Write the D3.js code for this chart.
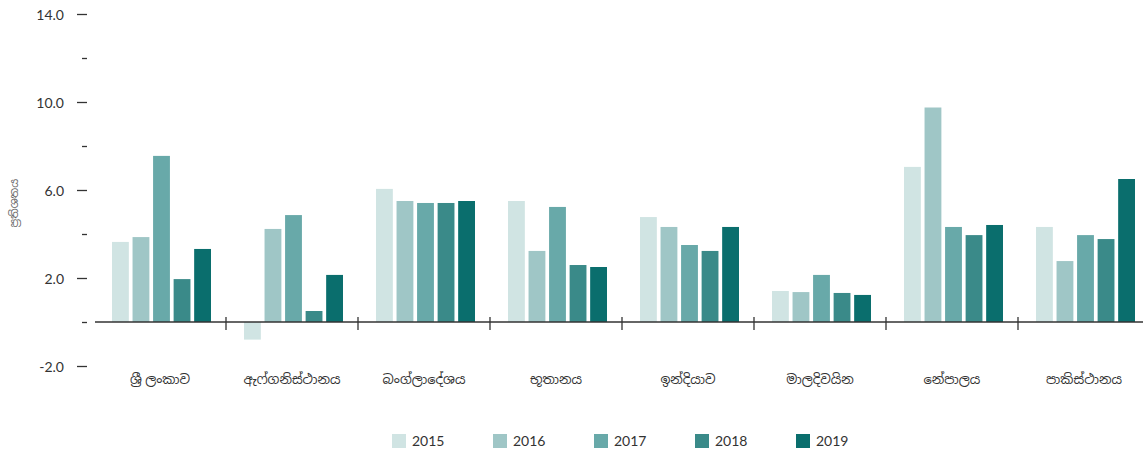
<!DOCTYPE html>
<html>
<head>
<meta charset="utf-8">
<script src="https://cdn.jsdelivr.net/npm/d3@7"></script>
<style>
  body { margin: 0; background: #fff; }
  text { font-family: Lato, "Noto Sans", "Noto Sans Sinhala", sans-serif; }
</style>
</head>
<body>
<div id="canvas"></div>
<script>
// data
var countries = ['ශ්‍රී ලංකාව', 'ඇෆ්ගනිස්ථානය', 'බංග්ලාදේශය', 'භූතානය', 'ඉන්දියාව', 'මාලදිවයින', 'නේපාලය', 'පාකිස්ථානය'];
var years = ['2015', '2016', '2017', '2018', '2019'];
var v2015 = [3.64, -0.8, 6.05, 5.5, 4.77, 1.41, 7.05, 4.32];
var v2016 = [3.86, 4.23, 5.5, 3.23, 4.32, 1.36, 9.75, 2.77];
var v2017 = [7.55, 4.86, 5.41, 5.23, 3.5, 2.14, 4.32, 3.95];
var v2018 = [1.95, 0.5, 5.41, 2.59, 3.23, 1.32, 3.95, 3.77];
var v2019 = [3.32, 2.14, 5.5, 2.5, 4.32, 1.23, 4.41, 6.5];
var yTicks = [-2, 0, 2, 4, 6, 8, 10, 12, 14];
var yLabelled = [-2, 2, 6, 10, 14];
var yTitle = 'ප්‍රතිශතය';

var series = [v2015, v2016, v2017, v2018, v2019];
var colors = ['#d0e4e3', '#9fc6c6', '#68a9a9', '#3a8a89', '#0a6e6d'];

var W = 1143, H = 449;

var svg = d3.select('#canvas')
    .append('svg')
    .attr('width', W)
    .attr('height', H);

// scales
var scaleX = d3.scaleBand()
    .domain(countries)
    .range([94, 1150]);
var scaleInner = d3.scaleBand()
    .domain(years)
    .range([18, 117])
    .paddingInner(0.18);
var scaleY = d3.scaleLinear()
    .domain([-2, 14])
    .range([366, 14]);
var scaleColor = d3.scaleOrdinal()
    .domain(years)
    .range(colors);

// y axis: ticks only, labels on every second one
var axisY = d3.axisLeft(scaleY)
    .tickValues(yTicks)
    .tickSize(0)
    .tickFormat('');
var gy = svg.append('g')
    .attr('transform', 'translate(87,0)')
    .call(axisY);
gy.select('.domain').remove();
gy.selectAll('.tick').append('line')
    .attr('x1', function(d){ return yLabelled.indexOf(d) > -1 ? -10 : -5; })
    .attr('x2', 0)
    .attr('stroke', '#333')
    .attr('stroke-width', 1.3);
gy.selectAll('.tick').filter(function(d){ return yLabelled.indexOf(d) > -1; })
    .append('text')
    .attr('x', -23)
    .attr('dy', '0.4em')
    .attr('text-anchor', 'end')
    .attr('fill', '#333')
    .style('font-size', '14px')
    .text(function(d){ return d.toFixed(1); });

svg.append('text')
    .attr('transform', 'translate(18,' + scaleY(5.4) + ') rotate(-90)')
    .attr('text-anchor', 'middle')
    .attr('fill', '#666')
    .style('font-size', '11px')
    .text(yTitle);

// bars
var rows = [];
countries.forEach(function(c, i){
    years.forEach(function(y, j){
        rows.push({country: c, year: y, value: series[j][i]});
    });
});

svg.append('g').selectAll('rect')
    .data(rows)
    .enter().append('rect')
    .attr('x', function(d){ return scaleX(d.country) + scaleInner(d.year); })
    .attr('width', scaleInner.bandwidth())
    .attr('y', function(d){ return scaleY(Math.max(0, d.value)); })
    .attr('height', function(d){ return Math.abs(scaleY(d.value) - scaleY(0)); })
    .attr('fill', function(d){ return scaleColor(d.year); });

// x axis
var axisX = d3.axisBottom(scaleX).tickSize(0).tickFormat('');
var gx = svg.append('g')
    .attr('transform', 'translate(0,' + scaleY(0) + ')')
    .call(axisX);
gx.select('.domain').remove();
gx.append('line')
    .attr('x1', 95).attr('x2', W)
    .attr('stroke', '#333')
    .attr('stroke-width', 1.5);
gx.selectAll('.sep')
    .data(countries.slice(1))
    .enter().append('line')
    .attr('x1', function(d){ return scaleX(d); })
    .attr('x2', function(d){ return scaleX(d); })
    .attr('y1', -5).attr('y2', 8)
    .attr('stroke', '#333')
    .attr('stroke-width', 1.3);
gx.selectAll('.lbl')
    .data(countries)
    .enter().append('text')
    .attr('x', function(d){ return scaleX(d) + scaleX.bandwidth() / 2; })
    .attr('y', 62)
    .attr('text-anchor', 'middle')
    .attr('fill', '#333')
    .style('font-size', '13px')
    .text(function(d){ return d; });

// legend
var legend = svg.append('g').selectAll('g')
    .data(years)
    .enter().append('g')
    .attr('transform', function(d, i){ return 'translate(' + (392 + i * 101) + ',434)'; });
legend.append('rect')
    .attr('width', 14).attr('height', 14)
    .attr('fill', function(d){ return scaleColor(d); });
legend.append('text')
    .attr('x', 20).attr('y', 12)
    .attr('fill', '#333')
    .style('font-size', '14px')
    .text(function(d){ return d; });
</script>
</body>
</html>
